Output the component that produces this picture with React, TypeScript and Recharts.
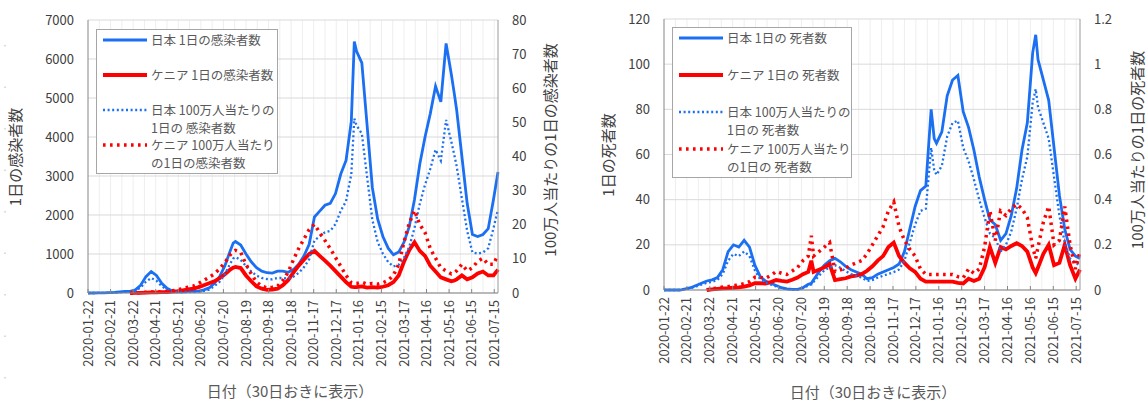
import React from 'react';
import { LineChart, Line, XAxis, YAxis, CartesianGrid, Legend } from 'recharts';

const FONT = '"Noto Sans CJK JP", "Noto Sans", sans-serif';

// day offset from 2020-01-22
const days = [
  0, 7, 14, 21, 28, 35, 42, 49, 56, 63,
  70, 77, 84, 91, 98, 105, 112, 119, 126, 133,
  140, 147, 154, 161, 168, 175, 182, 189, 193, 196, 203,
  210, 217, 224, 231, 238, 245, 252, 259, 266, 273,
  280, 287, 294, 301, 308, 315, 322, 329, 336, 343,
  350, 354, 357, 364, 371, 378, 385, 392, 399, 406,
  413, 420, 427, 434, 441, 448, 455, 462, 469, 476,
  483, 487, 490, 497, 504, 511, 518, 525, 532, 539, 545,
];

const tickDays = [0, 30, 60, 90, 120, 150, 180, 210, 240, 270, 300, 330, 360, 390, 420, 450, 480, 510, 540];
const tickLabels = [
  '2020-01-22', '2020-02-21', '2020-03-22', '2020-04-21', '2020-05-21', '2020-06-20', '2020-07-20',
  '2020-08-19', '2020-09-18', '2020-10-18', '2020-11-17', '2020-12-17', '2021-01-16', '2021-02-15',
  '2021-03-17', '2021-04-16', '2021-05-16', '2021-06-15', '2021-07-15',
];
const gridDays = [15, 30, 45, 60, 75, 90, 105, 120, 135, 150, 165, 180, 195, 210, 225, 240, 255, 270, 285,
  300, 315, 330, 345, 360, 375, 390, 405, 420, 435, 450, 465, 480, 495, 510, 525, 540];

const jpCases = [
  0, 0, 2, 5, 10, 15, 30, 40, 40, 80,
  200, 420, 550, 450, 250, 120, 50, 30, 30, 40,
  40, 50, 80, 130, 250, 420, 700, 1080, 1280, 1320, 1230,
  1000, 800, 650, 560, 520, 510, 560, 560, 530, 600,
  740, 950, 1250, 1950, 2100, 2250, 2300, 2550, 3050, 3400,
  4400, 6450, 6200, 5900, 4300, 2700, 1900, 1450, 1150, 980,
  1050, 1300, 1700, 2400, 3300, 4000, 4600, 5300, 4900, 6400,
  5600, 5100, 4700, 3500, 2300, 1500, 1450, 1500, 1650, 2400, 3100,
];
const keCases = [
  null, null, null, null, null, null, null, null, 0, 2,
  5, 10, 15, 15, 20, 25, 35, 50, 70, 90,
  110, 150, 200, 250, 300, 380, 480, 600, 650, 670, 640,
  450, 300, 170, 110, 80, 90, 110, 200, 330, 520,
  700, 850, 1000, 1080, 950, 830, 700, 560, 420, 280,
  160, 150, 150, 170, 140, 150, 140, 160, 200, 280,
  450, 800, 1100, 1300, 1080, 950, 700, 550, 400, 350,
  300, 320, 350, 450, 350, 400, 500, 550, 450, 450, 600,
];
const jpCasesPm = [
  0, 0, 0.02, 0.04, 0.08, 0.12, 0.24, 0.32, 0.32, 0.63,
  1.6, 3.3, 4.4, 3.6, 2.0, 0.95, 0.4, 0.24, 0.24, 0.32,
  0.32, 0.4, 0.63, 1.0, 2.0, 3.3, 5.5, 8.6, 10.1, 10.5, 9.7,
  7.9, 6.3, 5.1, 4.4, 4.1, 4.0, 4.4, 4.4, 4.2, 4.8,
  5.9, 7.5, 9.9, 15.4, 16.6, 17.8, 18.2, 20.2, 24.1, 26.9,
  34.8, 51.1, 49.1, 46.7, 34.0, 21.4, 15.0, 11.5, 9.1, 7.8,
  8.3, 10.3, 13.5, 19.0, 26.1, 31.7, 36.4, 42.0, 38.8, 50.7,
  44.3, 40.4, 37.2, 27.7, 18.2, 11.9, 11.5, 11.9, 13.1, 19.0, 24.5,
];
const keCasesPm = [
  null, null, null, null, null, null, null, null, 0, 0.04,
  0.09, 0.19, 0.28, 0.28, 0.37, 0.46, 0.65, 0.93, 1.3, 1.7,
  2.0, 2.8, 3.7, 4.6, 5.6, 7.1, 8.9, 11.2, 12.1, 12.5, 11.9,
  8.4, 5.6, 3.2, 2.0, 1.5, 1.7, 2.0, 3.7, 6.1, 9.7,
  13.0, 15.8, 18.6, 20.1, 17.7, 15.4, 13.0, 10.4, 7.8, 5.2,
  3.0, 2.8, 2.8, 3.2, 2.6, 2.8, 2.6, 3.0, 3.7, 5.2,
  8.4, 14.9, 20.4, 24.2, 20.1, 17.7, 13.0, 10.2, 7.4, 6.5,
  5.6, 5.9, 6.5, 8.4, 6.5, 7.4, 9.3, 10.2, 8.4, 8.4, 11.2,
];

const jpDeaths = [
  0, 0, 0, 0, 0.5, 1, 2, 3, 4, 4.5,
  5.5, 9, 17, 20, 19, 22, 19, 11, 6, 4,
  3, 2, 1, 0.5, 0.3, 0.3, 1, 2.5, 3, 4.5, 8,
  11, 13, 14, 12.5, 10.5, 9, 8, 7, 5, 5.5,
  7, 8, 9, 10, 11.5, 17, 27, 37, 44, 46,
  80, 67, 65, 70, 86, 93, 95, 79, 72, 62,
  50, 40, 31, 29, 22, 25, 33, 45, 62, 74,
  105, 113, 102, 93, 84, 63, 42, 27, 18, 15, 14,
];
const keDeaths = [
  null, null, null, null, null, null, null, null, 0, 0.3,
  0.5, 0.7, 0.8, 1, 1.2, 1.5, 2, 3, 3, 2.8,
  3.5, 4.4, 4, 3.7, 4.5, 5.5, 7, 8, 13, 8, 9,
  10, 11.5, 4.4, 4.8, 5.2, 6, 6.4, 7, 8.5, 10.5,
  13, 15, 19, 21, 15, 12, 9.6, 8, 5, 3.7,
  3.7, 3.7, 3.7, 3.7, 3.7, 3.7, 3.2, 2.9, 5, 4,
  5, 10, 19, 12, 19, 18, 19.5, 20.7, 19.5, 17,
  10, 7.5, 10, 16, 20, 11, 12, 20, 11, 5, 9,
];
const jpDeathsPm = [
  0, 0, 0, 0, 0.004, 0.008, 0.016, 0.024, 0.032, 0.036,
  0.044, 0.071, 0.13, 0.16, 0.15, 0.17, 0.15, 0.087, 0.048, 0.032,
  0.024, 0.016, 0.008, 0.004, 0.002, 0.002, 0.008, 0.02, 0.024, 0.036, 0.063,
  0.087, 0.1, 0.11, 0.099, 0.083, 0.071, 0.063, 0.055, 0.04, 0.044,
  0.055, 0.063, 0.071, 0.079, 0.091, 0.13, 0.21, 0.29, 0.35, 0.36,
  0.63, 0.53, 0.51, 0.55, 0.68, 0.74, 0.75, 0.63, 0.57, 0.49,
  0.4, 0.32, 0.25, 0.23, 0.17, 0.2, 0.26, 0.36, 0.49, 0.59,
  0.83, 0.89, 0.81, 0.74, 0.67, 0.5, 0.33, 0.21, 0.14, 0.12, 0.11,
];
const keDeathsPm = [
  null, null, null, null, null, null, null, null, 0, 0.006,
  0.009, 0.013, 0.015, 0.019, 0.022, 0.028, 0.037, 0.056, 0.056, 0.052,
  0.065, 0.082, 0.074, 0.069, 0.084, 0.1, 0.13, 0.15, 0.24, 0.15, 0.17,
  0.19, 0.21, 0.082, 0.089, 0.097, 0.11, 0.12, 0.13, 0.16, 0.2,
  0.24, 0.28, 0.35, 0.39, 0.28, 0.22, 0.18, 0.15, 0.093, 0.069,
  0.069, 0.069, 0.069, 0.069, 0.069, 0.069, 0.059, 0.054, 0.093, 0.074,
  0.093, 0.19, 0.35, 0.22, 0.35, 0.33, 0.36, 0.38, 0.36, 0.32,
  0.19, 0.14, 0.19, 0.3, 0.37, 0.2, 0.22, 0.37, 0.2, 0.093, 0.17,
];

const rows = days.map((day, i) => ({
  day,
  jpCases: jpCases[i],
  keCases: keCases[i],
  jpCasesPm: jpCasesPm[i],
  keCasesPm: keCasesPm[i],
  jpDeaths: jpDeaths[i],
  keDeaths: keDeaths[i],
  jpDeathsPm: jpDeathsPm[i],
  keDeathsPm: keDeathsPm[i],
}));

const BLUE = '#1a6ff2';
const RED = '#ff0000';

type SeriesDef = { key: string; name: string; axis: 'left' | 'right'; color: string; width: number; dash?: string };

const casesSeries: SeriesDef[] = [
  { key: 'jpCases', name: '日本 1日の感染者数', axis: 'left', color: BLUE, width: 2.8 },
  { key: 'keCases', name: 'ケニア 1日の感染者数', axis: 'left', color: RED, width: 3.8 },
  { key: 'jpCasesPm', name: '日本 100万人当たりの\n1日の 感染者数', axis: 'right', color: BLUE, width: 2.3, dash: '2 2.6' },
  { key: 'keCasesPm', name: 'ケニア 100万人当たり\nの1日の感染者数', axis: 'right', color: RED, width: 3.5, dash: '2.6 4.4' },
];
const deathsSeries: SeriesDef[] = [
  { key: 'jpDeaths', name: '日本 1日の 死者数', axis: 'left', color: BLUE, width: 2.8 },
  { key: 'keDeaths', name: 'ケニア 1日の 死者数', axis: 'left', color: RED, width: 3.8 },
  { key: 'jpDeathsPm', name: '日本 100万人当たりの\n1日の 死者数', axis: 'right', color: BLUE, width: 2.3, dash: '2 2.6' },
  { key: 'keDeathsPm', name: 'ケニア 100万人当たり\nの1日の 死者数', axis: 'right', color: RED, width: 3.5, dash: '2.6 4.4' },
];

const DateTick = ({ x, y, payload }: any) => {
  const label = tickLabels[tickDays.indexOf(payload.value)];
  return (
    <text x={x} y={y} transform={`rotate(-90, ${x}, ${y})`} textAnchor="end" dy="0.35em"
      fill="#404040" fontSize={13} fontFamily={FONT}>
      {label}
    </text>
  );
};

const makeLegend = (series: SeriesDef[], itemH: number) => () => (
  <div style={{
    border: '1.5px solid #a6a6a6', background: '#fff', boxSizing: 'border-box',
    padding: '1px 4px 2px 6px', fontFamily: FONT, fontSize: 12.5, color: '#595959',
  }}>
    {series.map((s, i) => (
      <div key={s.key} style={{ display: 'flex', alignItems: 'flex-start', height: i === series.length - 1 ? 35 : itemH }}>
        <svg width={44} height={18} style={{ flex: 'none' }}>
          <line x1={0} x2={44} y1={9} y2={9} stroke={s.color} strokeWidth={s.width} strokeDasharray={s.dash} />
        </svg>
        <span style={{ whiteSpace: 'pre', lineHeight: '18px', marginLeft: 4 }}>{s.name}</span>
      </div>
    ))}
  </div>
);

type PanelProps = {
  width: number;
  top: number;
  leftW: number;
  rightW: number;
  xH: number;
  leftTicks: number[];
  rightTicks: number[];
  series: SeriesDef[];
  legendBox: { left: number; top: number; width: number; itemH: number };
};

const axisTick = { fill: '#404040', fontSize: 13, fontFamily: FONT };

const Panel = ({ width, top, leftW, rightW, xH, leftTicks, rightTicks, series, legendBox }: PanelProps) => (
  <LineChart width={width} height={401} data={rows} margin={{ top, right: 0, bottom: 0, left: 0 }}>
    <CartesianGrid yAxisId="left" horizontal={false} verticalValues={gridDays} stroke="#eeeeee" />
    <CartesianGrid yAxisId="left" vertical={false} stroke="#d9d9d9" />
    <XAxis dataKey="day" type="number" domain={[0, 545]} ticks={tickDays} interval={0} tick={<DateTick />}
      tickSize={-4} tickMargin={11} height={xH} axisLine={{ stroke: '#868686' }} tickLine={{ stroke: '#868686' }} />
    <XAxis xAxisId="top" orientation="top" type="number" domain={[0, 545]} tick={false} tickLine={false}
      height={0} axisLine={{ stroke: '#9a9a9a' }} />
    <YAxis yAxisId="left" domain={[leftTicks[0], leftTicks[leftTicks.length - 1]]} ticks={leftTicks} interval={0}
      width={leftW} tickLine={false} tickSize={0} tickMargin={14} axisLine={{ stroke: '#868686' }} tick={axisTick} />
    <YAxis yAxisId="right" orientation="right" domain={[rightTicks[0], rightTicks[rightTicks.length - 1]]}
      ticks={rightTicks} interval={0} width={rightW} tickLine={false} tickSize={0} tickMargin={14}
      axisLine={{ stroke: '#9a9a9a' }} tick={axisTick} />
    <Legend layout="vertical" align="center" verticalAlign="middle"
      content={makeLegend(series, legendBox.itemH)}
      wrapperStyle={{ left: legendBox.left, top: legendBox.top, width: legendBox.width }} />
    {series.map((s) => (
      <Line key={s.key} yAxisId={s.axis} dataKey={s.key} name={s.name} type="linear" stroke={s.color}
        strokeWidth={s.width} strokeDasharray={s.dash} dot={false} activeDot={false} isAnimationActive={false} />
    ))}
  </LineChart>
);

const VTitle = ({ x, y, text }: { x: number; y: number; text: string }) => (
  <div style={{
    position: 'absolute', left: x, top: y, transform: 'translate(-50%, -50%) rotate(-90deg)',
    whiteSpace: 'nowrap', fontSize: 15, color: '#404040', fontFamily: FONT, lineHeight: 1,
  }}>{text}</div>
);

const HTitle = ({ x, y, text }: { x: number; y: number; text: string }) => (
  <div style={{
    position: 'absolute', left: x, top: y, transform: 'translate(-50%, -50%)',
    whiteSpace: 'nowrap', fontSize: 15, color: '#595959', fontFamily: FONT, lineHeight: 1,
  }}>{text}</div>
);

export default function App() {
  return (
    <div style={{ position: 'fixed', left: 0, top: 0, width: 1147, height: 401, background: '#fff', overflow: 'hidden' }}>
      {/* faint dotted edge from the source screenshot */}
      <svg style={{ position: 'absolute', left: 0, top: 0 }} width={10} height={401}>
        <line x1={5} x2={5} y1={45} y2={401} stroke="#cfcfcf" strokeWidth={1.5} strokeDasharray="1.5 40" />
      </svg>
      <div style={{ position: 'absolute', left: 0, top: 0 }}>
        <Panel width={575} top={20} leftW={88} rightW={77} xH={108}
          leftTicks={[0, 1000, 2000, 3000, 4000, 5000, 6000, 7000]}
          rightTicks={[0, 10, 20, 30, 40, 50, 60, 70, 80]}
          series={casesSeries}
          legendBox={{ left: 96, top: 29, width: 182, itemH: 35 }} />
      </div>
      <div style={{ position: 'absolute', left: 575, top: 0 }}>
        <Panel width={572} top={19} leftW={89} rightW={67} xH={111}
          leftTicks={[0, 20, 40, 60, 80, 100, 120]}
          rightTicks={[0, 0.2, 0.4, 0.6, 0.8, 1, 1.2]}
          series={deathsSeries}
          legendBox={{ left: 97, top: 27, width: 180, itemH: 37 }} />
      </div>
      <VTitle x={14} y={157} text="1日の感染者数" />
      <VTitle x={549} y={150} text="100万人当たりの1日の感染者数" />
      <VTitle x={607} y={155} text="1日の死者数" />
      <VTitle x={1136} y={150} text="100万人当たりの1日の死者数" />
      <HTitle x={290} y={390} text="日付（30日おきに表示）" />
      <HTitle x={873} y={391} text="日付（30日おきに表示）" />
    </div>
  );
}
